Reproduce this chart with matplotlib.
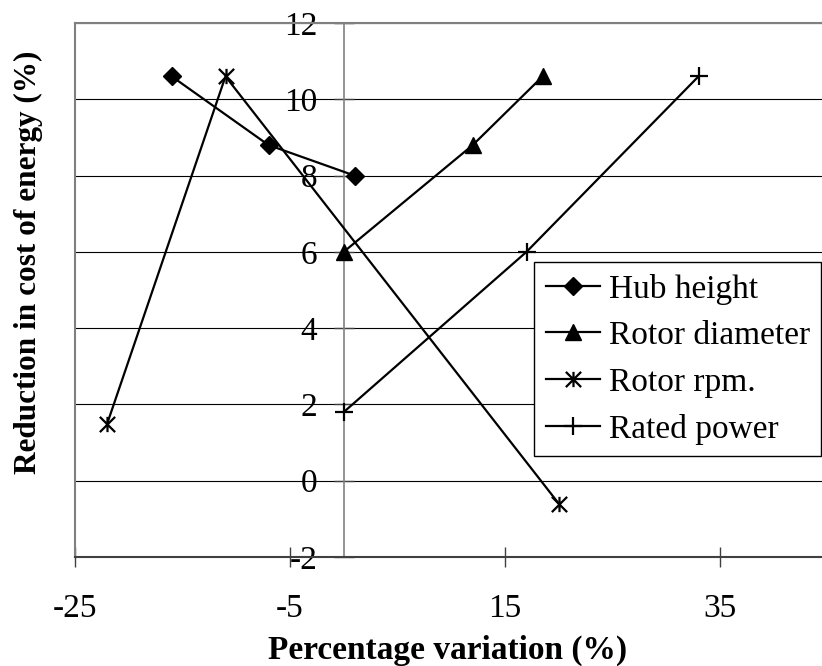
import matplotlib

matplotlib.use("Agg")

import matplotlib.pyplot as plt
from matplotlib.path import Path

# data
hub_x = [-16, -7, 1]
hub_y = [10.6, 8.8, 8.0]
rotor_dia_x = [0, 12, 18.5]
rotor_dia_y = [6.0, 8.8, 10.6]
rotor_rpm_x = [-22, -11, 20]
rotor_rpm_y = [1.5, 10.6, -0.6]
rated_x = [0, 17, 33]
rated_y = [1.8, 6.0, 10.6]

x_ticks = [-25, -5, 15, 35]
y_ticks = [-2, 0, 2, 4, 6, 8, 10, 12]

# excel style star: an x with a vertical bar
STAR = Path(
    [(0, -1), (0, 1), (-1, -1), (1, 1), (-1, 1), (1, -1)],
    [Path.MOVETO, Path.LINETO, Path.MOVETO, Path.LINETO, Path.MOVETO, Path.LINETO],
)

plt.rcParams["font.family"] = ["Liberation Serif", "DejaVu Serif"]

fig = plt.figure(figsize=(8.22, 6.66), dpi=100)
ax = fig.add_axes([75 / 822, 1 - 557 / 666, 1 - 75 / 822, 534 / 666])

line_kw = dict(color="black", linewidth=1.6, zorder=3)
ax.plot(hub_x, hub_y, marker="D", markersize=9, label="Hub height", **line_kw)
ax.plot(rotor_dia_x, rotor_dia_y, marker="^", markersize=11, label="Rotor diameter", **line_kw)
ax.plot(rotor_rpm_x, rotor_rpm_y, marker=STAR, markersize=11, markeredgewidth=1.6,
        label="Rotor rpm.", **line_kw)
ax.plot(rated_x, rated_y, marker="+", markersize=13, markeredgewidth=1.6,
        label="Rated power", **line_kw)

ax.set_xlim(-25, -25 + (822 - 75) / 10.75)
ax.set_ylim(-2, 12)
ax.set_xticks(x_ticks)
ax.set_yticks(y_ticks)
ax.set_xticklabels([str(v) for v in x_ticks])
ax.set_yticklabels([str(v) for v in y_ticks])

ax.yaxis.grid(True, color="black", linewidth=0.8, zorder=1)
ax.set_axisbelow(True)

ax.spines["left"].set_position(("data", 0))
ax.spines["left"].set_color("#808080")
ax.spines["left"].set_linewidth(1.2)
ax.spines["top"].set_color("#808080")
ax.spines["top"].set_linewidth(1.5)
ax.spines["right"].set_visible(False)
ax.spines["bottom"].set_color("#404040")
ax.spines["bottom"].set_linewidth(1.5)
ax.axvline(-25, color="#808080", linewidth=1.5, clip_on=False, zorder=2)

ax.tick_params(axis="y", direction="inout", length=14, width=1, color="#404040",
               labelsize=24, pad=12)
ax.tick_params(axis="x", direction="inout", length=14, width=1, color="#404040",
               labelsize=24, pad=19)

fig.text(448 / 822, 1 - 650 / 666, "Percentage variation (%)", fontsize=24,
         fontweight="bold", ha="center", va="center")
fig.text(28 / 822, 1 - 262 / 666, "Reduction in cost of energy (%)", fontsize=22.5,
         fontweight="bold", rotation=90, ha="center", va="center")

leg = ax.legend(
    loc="upper left",
    bbox_to_anchor=(534 / 822, 1 - 262 / 666),
    bbox_transform=fig.transFigure,
    fontsize=24,
    frameon=True,
    fancybox=False,
    framealpha=1,
    edgecolor="black",
    borderaxespad=0,
    handlelength=1.62,
    handletextpad=0.27,
    labelspacing=0.48,
    borderpad=0.35,
)
leg.get_frame().set_linewidth(1.0)
leg.set_zorder(5)

fig.savefig("out.png", dpi=100)
plt.close(fig)
